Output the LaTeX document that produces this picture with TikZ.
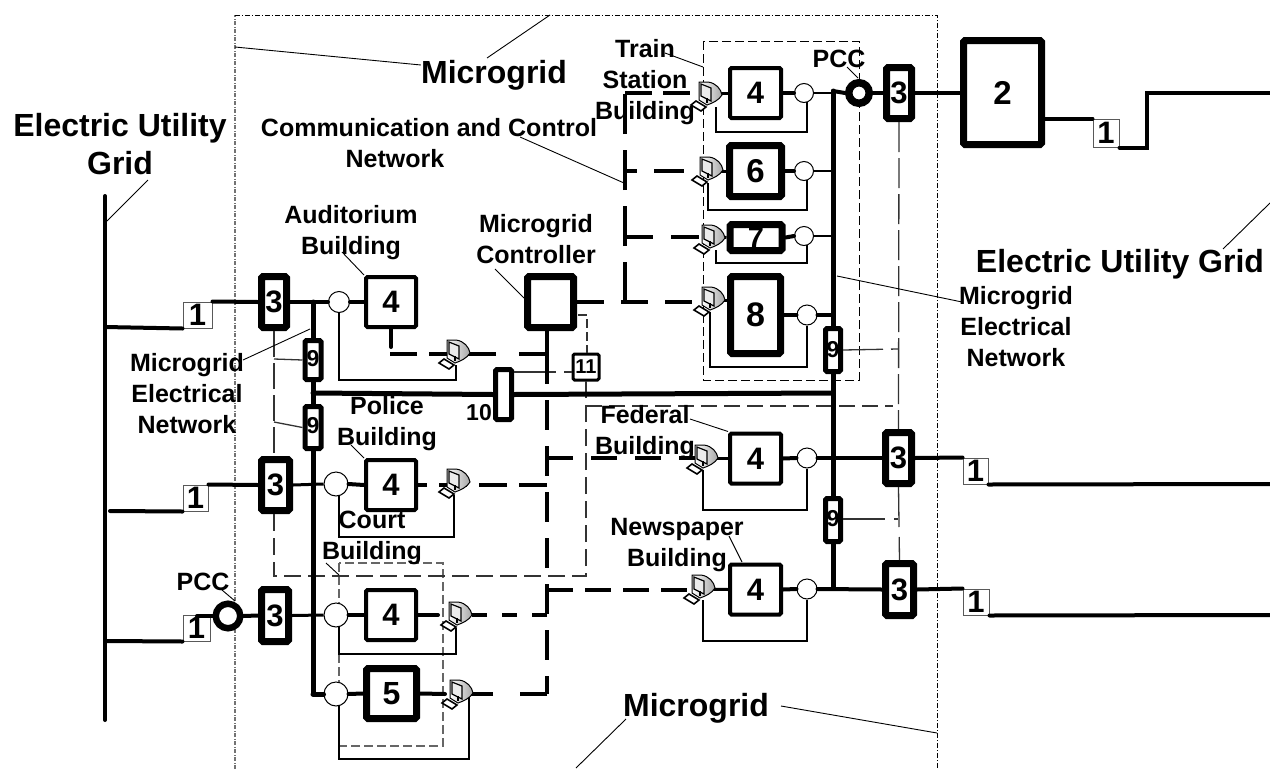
\documentclass[tikz,border=0pt]{standalone}
\usepackage{fontspec}
\setmainfont{Liberation Sans}
\newcommand{\fsz}[1]{\bfseries\fontsize{#1}{#1}\selectfont}
\tikzset{
  lab/.style={font=\bfseries\fontsize{25}{31}\selectfont,align=center,inner sep=0pt},
  biglab/.style={font=\bfseries\fontsize{32}{38}\selectfont,align=center,inner sep=0pt},
  blk/.style={draw=black,fill=white,rectangle,rounded corners=1.5pt,inner sep=0pt,font=\fsz{31}},
  boxA/.style={blk,line width=4pt},
  boxB/.style={blk,line width=7pt},
  boxC/.style={blk,line width=5pt,font=\fsz{23}},
  oneb/.style={draw=black!65,fill=white,rectangle,line width=1pt,inner sep=0pt,minimum width=27pt,minimum height=26pt,font=\fsz{31}},
  sw/.style={draw=black,fill=white,circle,line width=1pt,inner sep=0pt},
  pccring/.style={draw=black,fill=white,circle,line width=7pt,inner sep=0pt,minimum size=21pt},
  feed/.style={line width=4pt,line cap=round},
  bus/.style={line width=5pt,line cap=round},
  fb/.style={line width=2pt},
  lead/.style={line width=.9pt},
  ctl/.style={line width=4pt},
  ctlthin/.style={line width=1.3pt,black!80},
  outerL/.style={line width=1.1pt,black!55,dash pattern=on 4pt off 1.5pt on 1pt off 1.5pt},
  outerR/.style={line width=1pt,dash pattern=on 5pt off 2pt on 1pt off 2pt},
  monitor/.pic={
    \coordinate (-c) at (0,0);
    \draw[line width=1pt,left color=white,right color=black!35] (-8,-13) -- (1,-13) .. controls (9,-12) and (14,-6) .. (15,0) .. controls (12,5) and (6,8) .. (0,10) -- (-8,5) -- cycle;
    \draw[line width=1.2pt,fill=black!8] (-6,-11) -- (4,-7) -- (4,6) -- (-6,1) -- cycle;
    \fill[black] (-1,3) -- (1,3) -- (1,8) -- (-1,8) -- cycle;
    \draw[line width=1.6pt,fill=white] (-16,10) -- (-11,6) -- (-1,12) -- (-6,16) -- cycle;
  }
}
\begin{document}
\begin{tikzpicture}[x=1pt,y=-1pt]
\useasboundingbox (0,0) rectangle (1270,769);

% ---- outer microgrid frame
\coordinate (oTL) at (235,15); \coordinate (oTR) at (937,15);
\coordinate (oBL) at (235,769); \coordinate (oBR) at (937,769);
\draw[outerL] (oBL) -- (oTL);
\draw[outerR] (oTL) -- (oTR) -- (oBR);

% ---- building frames
\coordinate (trTL) at (703,41); \coordinate (trBR) at (859,380);
\draw[line width=1pt,dash pattern=on 9pt off 4pt] (trTL) rectangle (trBR);
\coordinate (coTL) at (339,563); \coordinate (coBR) at (443,746);
\draw[line width=1.1pt,black!60,dash pattern=on 9pt off 4pt] (coTL) rectangle (coBR);

% ---- blocks
\node[boxB,minimum width=25pt,minimum height=51pt] (b3a) at (274,302) {3};
\node[boxB,minimum width=28pt,minimum height=51pt] (b3b) at (275.5,485) {3};
\node[boxB,minimum width=27pt,minimum height=52pt] (b3c) at (275,615.5) {3};
\node[boxB,minimum width=25pt,minimum height=51pt] (b3d) at (899,93) {3};
\node[boxB,minimum width=26pt,minimum height=51pt] (b3e) at (898.5,458) {3};
\node[boxB,minimum width=28pt,minimum height=52pt] (b3f) at (899.5,589.5) {3};

\node[oneb,minimum width=29pt] (o1) at (197.5,315) {1};
\node[oneb,minimum width=25pt] (o2) at (195.5,498) {1};
\node[oneb] (o3) at (196.5,628) {1};
\node[oneb,minimum width=26pt,minimum height=28pt] (o4) at (1106,133) {1};
\node[oneb,minimum width=25pt] (o5) at (975.5,471) {\raisebox{-4pt}{1}};
\node[oneb,minimum width=26pt] (o6) at (976,602) {\raisebox{-4pt}{1}};

\node[boxB,minimum width=78pt,minimum height=104pt,font=\fsz{33}] (b2) at (1002.5,92.5) {2};

\node[boxA,minimum width=50pt,minimum height=50pt] (aud) at (391,302) {4};
\node[boxA,minimum width=50pt,minimum height=50pt] (pol) at (391,485) {4};
\node[boxA,minimum width=50pt,minimum height=50pt] (cou) at (391,615) {4};
\node[boxB,minimum width=50pt,minimum height=50pt,font=\fsz{32}] (b5) at (391.5,693.5) {5};
\node[boxA,minimum width=51pt,minimum height=50pt] (tra) at (755.5,93) {4};
\node[boxB,minimum width=52pt,minimum height=51pt,font=\fsz{33}] (b6) at (755.5,171) {6};
\node[boxB,minimum width=52pt,minimum height=26pt,font=\fsz{29}] (b7) at (756,237.5) {7};
\node[boxB,minimum width=50pt,minimum height=77pt,font=\fsz{34}] (b8) at (755.5,315) {8};
\node[boxA,minimum width=51pt,minimum height=50pt] (fed) at (755.5,458.5) {4};
\node[boxA,minimum width=51pt,minimum height=50pt] (new) at (755.5,589.5) {4};
\node[boxB,minimum width=46pt,minimum height=51pt] (mc) at (550.5,302) {};

\node[boxC,minimum width=16pt,minimum height=39pt] (n9a) at (313,360) {\raisebox{3pt}{9}};
\node[boxC,minimum width=16pt,minimum height=42pt] (n9b) at (313,427.5) {\raisebox{4pt}{9}};
\node[boxC,minimum width=15pt,minimum height=43pt] (n9c) at (833,350) {9};
\node[boxC,minimum width=15pt,minimum height=43pt] (n9d) at (833,520) {\raisebox{3pt}{9}};
\node[boxC,minimum width=16pt,minimum height=50pt] (b10) at (503.5,394.5) {};
\node[blk,line width=3pt,minimum width=26pt,minimum height=26pt,font=\fsz{20}] (b11) at (586,367) {11};

\node[sw,minimum size=21pt] (sA) at (339,302) {};
\node[sw,minimum size=24pt] (sP) at (336,484) {};
\node[sw,minimum size=24pt] (sC) at (336,615) {};
\node[sw,minimum size=24pt] (s5) at (336,694) {};
\node[sw,minimum size=19pt] (sT) at (804,93) {};
\node[sw,minimum size=19pt] (s6) at (804,171) {};
\node[sw,minimum size=19pt] (s7) at (804,236) {};
\node[sw,minimum size=20pt] (s8) at (807,315) {};
\node[sw,minimum size=20pt] (sF) at (807,458) {};
\node[sw,minimum size=20pt] (sN) at (807,589) {};
\node[pccring,minimum size=20.5pt,line width=7.5pt] (pccR) at (859,93) {};
\node[pccring,minimum size=24.5pt,line width=6.5pt] (pccL) at (228,616) {};

% ---- junction points
\coordinate (gTop) at (105,196); \coordinate (gBot) at (105,720);
\coordinate (lbTop) at (313,302); \coordinate (lbBot) at (313,694);
\coordinate (lbMid) at (313,393);
\coordinate (rbTop) at (833,91); \coordinate (rbMid) at (833,393); \coordinate (rbBot) at (833,587);
\coordinate (o2s) at (110,511);
\coordinate (cvTop) at (547,331); \coordinate (cvA) at (547,354); \coordinate (cvE) at (547,694);
\coordinate (cv3) at (547,458); \coordinate (cv4) at (547,485); \coordinate (cv5) at (547,590);
\coordinate (cv6) at (547,615);
\coordinate (tvB) at (625,302); \coordinate (tvT) at (625,93);
\coordinate (tv6) at (625,171); \coordinate (tv7) at (625,237);
\coordinate (rEnd) at (1270,93); \coordinate (r2) at (1270,484); \coordinate (r3) at (1270,615);
\coordinate (stepUp) at (1147,93);

% ---- control network, thin
\draw[ctlthin,dash pattern=on 26pt off 6pt] (274,331) -- (274,456);
\draw[ctlthin,dash pattern=on 17pt off 7pt] (274,514) -- (274,576) -- (586,576) -- (586,381);
\draw[ctlthin,dash pattern=on 16pt off 7pt] (586,406) -- (893,406);
\draw[ctlthin] (274,359) -- (n9a.west);
\draw[ctlthin] (274,422) -- (n9b.west);
\draw[ctlthin,dash pattern=on 42pt off 8pt] (b10.east |- 0,372) -- (b11.west |- 0,372);
\draw[ctlthin,dash pattern=on 9pt off 4pt] (578,315) -- (587,315) -- (b11.north -| 587,0);
\draw[ctlthin,dash pattern=on 30pt off 6pt] (b3d.south) -- (b3e.north);
\draw[ctlthin,dash pattern=on 40pt off 8pt] (n9c.east) -- (898,349);
\draw[ctlthin,dash pattern=on 42pt off 9pt] (n9d.east |- 0,519) -- (898,519);
\draw[ctlthin,dash pattern=on 40pt off 10pt] (b3e.south) -- (b3f.north);

% ---- control network, thick
\draw[line width=4pt] (mc.south -| cvTop) -- (cvA);
\draw[line width=4pt,line cap=round] (aud.south) -- (391,347);
\draw[ctl,dash pattern=on 30pt off 16pt] (cvA) -- (cvE);
\draw[ctl,dash pattern=on 28pt off 23pt on 28pt off 21pt on 18pt off 12pt on 27pt off 10pt] (cvA) -- (390,354);
\draw[ctl,dash pattern=on 26pt off 18pt] (cv3) -- (700,458);
\draw[ctl,dash pattern=on 28pt off 12pt] (cv4) -- (pol.east);
\draw[ctl,dash pattern=on 26pt off 12pt] (cv5) -- (700,590);
\draw[ctl,dash pattern=on 15pt off 15pt] (cv6) -- (457,615);
\draw[ctl,dash pattern=on 27pt off 27pt] (cvE) -- (458,694);
\draw[ctl,dash pattern=on 40pt off 16pt] (tvB) -- (tvT);
\draw[ctl,dash pattern=on 27pt off 11pt] (tvT) -- (707,93);
\draw[ctl,dash pattern=on 30pt off 17pt,dash phase=18pt] (tv6) -- (708,171);
\draw[ctl,dash pattern=on 28pt off 18pt] (tv7) -- (710,237);
\draw[ctl,dash pattern=on 27pt off 17pt] (mc.east) -- (710,302);

% ---- electrical network
\draw[feed] (gTop) -- (gBot);
\draw[feed] (105,327) -- (o1.south west);
\draw[feed] (o1.north east) -- (b3a.west);
\draw[feed] (b3a.east) -- (sA.west);
\draw[feed] (sA.east) -- (aud.west);
\draw[feed] (o2s) -- (o2.south west);
\draw[feed] (o2.north east) -- (b3b.west);
\draw[line width=3pt] (b3b.east) -- (sP.west);
\draw[feed] (sP.east) -- (pol.west);
\draw[feed] (105,641) -- (o3.south west);
\draw[feed] (197,616) -- (pccL.west);
\draw[feed] (pccL.east) -- (b3c.west);
\draw[line width=3pt] (b3c.east) -- (sC.west);
\draw[feed] (sC.east) -- (cou.west);
\draw[feed] (cou.east) -- (438,615);
\draw[bus] (lbBot) -- (s5.west);
\draw[feed] (s5.east) -- (b5.west);
\draw[feed] (b5.east) -- (445,694);
\draw[bus] (lbTop) -- (n9a.north);
\draw[bus] (n9a.south) -- (n9b.north);
\draw[bus] (n9b.south) -- (lbBot);
\draw[bus] (lbMid) -- (b10.west);
\draw[bus] (b10.east) -- (rbMid);
\draw[bus] (rbTop) -- (n9c.north);
\draw[bus] (n9c.south) -- (n9d.north);
\draw[bus] (n9d.south) -- (rbBot);
\draw[feed] (rbTop) -- (pccR.west);
\draw[feed] (pccR.east) -- (b3d.west);
\draw[feed] (b3d.east) -- (b2.west |- b3d.east);
\draw[feed] (tra.east) -- (sT.west);
\draw[line width=2.5pt] (sT.east) -- (rbTop |- sT.east);
\draw[feed] (b6.east) -- (s6.west);
\draw[line width=2.5pt] (s6.east) -- (rbTop |- s6.east);
\draw[feed] (b7.east) -- (s7.west);
\draw[line width=2.5pt] (s7.east) -- (rbTop |- s7.east);
\draw[feed] (b8.east) -- (s8.west);
\draw[feed] (s8.east) -- (rbTop |- s8.east);
\draw[feed] (fed.east) -- (sF.west);
\draw[feed] (sF.east) -- (b3e.west);
\draw[feed] (new.east) -- (sN.west);
\draw[feed] (sN.east) -- (b3f.west);
\draw[feed] (b3e.east) -- (o5.north west);
\draw[feed] (b3f.east) -- (o6.north west);
\draw[feed] (o5.south east) -- (r2);
\draw[feed] (o6.south east) -- (r3);
\draw[feed] (b2.east |- o4.north west) -- (o4.north west);
\draw[feed] (o4.south east) -| (stepUp) -- (rEnd);

% ---- monitor to block links
\draw[line width=3pt] (707,93) -- (tra.west);
\draw[line width=3pt] (708,171) -- (b6.west);
\draw[line width=3pt] (710,237) -- (b7.west);
\draw[line width=3pt] (710,300) -- (b8.west |- 0,300);
\draw[line width=3pt] (703,458) -- (fed.west |- 0,458);
\draw[line width=3pt] (700,589) -- (new.west);

% ---- feedback loops
\draw[fb] (807,102) -- (807,132) -- (716,132) -- (716,107);
\draw[fb] (807,180) -- (807,210) -- (708,210) -- (708,183);
\draw[fb] (807,245) -- (807,263) -- (716,263) -- (716,250);
\draw[fb] (s8.south) -- (807,367) -- (710,367) -- (710,312);
\draw[fb] (sF.south) -- (807,510) -- (703,510) -- (703,470);
\draw[fb] (sN.south) -- (807,641) -- (703,641) -- (703,600);
\draw[fb] (339,312) -- (339,380) -- (456,380) -- (456,365);
\draw[fb] (339,495) -- (339,537) -- (454,537) -- (454,495);
\draw[fb] (339,626) -- (339,654) -- (456,654) -- (456,628);
\draw[fb] (339,705) -- (339,759) -- (469,759) -- (469,697);

% ---- workstations
\pic (mT) at (707,95) {monitor};
\pic (m6) at (708,170) {monitor};
\pic (m7) at (710,238) {monitor};
\pic (m8) at (710,300) {monitor};
\pic (mF) at (703,458) {monitor};
\pic (mN) at (700,588) {monitor};
\pic (mA) at (455,353) {monitor};
\pic (mP) at (455,482) {monitor};
\pic (mC) at (457,615) {monitor};
\pic (m5) at (458,693) {monitor};

% ---- text labels
\node[biglab] (tMgT) at (494,75) {Microgrid};
\node[biglab] (tMgB) at (696,708) {Microgrid};
\node[biglab] (tEUL) at (120,144) {Electric Utility\\Grid};
\node[biglab] (tEUR) at (1120,264) {Electric Utility Grid};
\node[lab] (tTrain) at (645,82) {Train\\Station\\Building};
\node[lab] (tComm) at (429,128) {Communication and Control};
\node[lab] (tNet) at (395,159) {Network};
\node[lab] (tAud) at (351,233) {Auditorium\\Building};
\node[lab] (tCtl) at (536,239) {Microgrid\\Controller};
\node[lab] (tMENL) at (187,394) {Microgrid\\Electrical\\Network};
\node[lab] (tMENR) at (1016,327) {Microgrid\\Electrical\\Network};
\node[lab] (tPol) at (387,424) {Police\\Building};
\node[lab] (tCou) at (372,538) {Court\\Building};
\node[lab] (tFed) at (645,433) {Federal\\Building};
\node[lab] (tNew) at (677,545) {Newspaper\\Building};
\node[lab] (tPccR) at (839,59) {PCC};
\node[lab] (tPccL) at (203,582) {PCC};
\node[inner sep=0pt,font=\fsz{23}] (t10) at (479,413) {10};

% ---- leader lines
\draw[lead] (oTL |- 0,47) -- (tMgT.west |- 0,65);
\draw[lead] (550,15) -- (487,58);
\draw[lead] (781,706) -- (oTR |- 0,733);
\draw[lead] (626,719) -- (576,768);
\draw[lead] (107,221) -- (148,180);
\draw[lead] (1270,203) -- (1223,249);
\draw[lead] (665,53) -- (703,67);
\draw[lead] (847,67) -- (858,78);
\draw[lead] (520,137) -- (624,183);
\draw[lead] (342,252) -- (aud.north west);
\draw[lead] (495,269) -- (524,298);
\draw[lead] (243,360) -- (310,329);
\draw[lead] (837,276) -- (962,302);
\draw[lead] (351,445) -- (pol.north west);
\draw[lead] (326,563) -- (339,575);
\draw[lead] (690,419) -- (fed.north west);
\draw[lead] (729,536) -- (742,562);
\draw[lead] (222,590) -- (235,601);
\end{tikzpicture}
\end{document}
